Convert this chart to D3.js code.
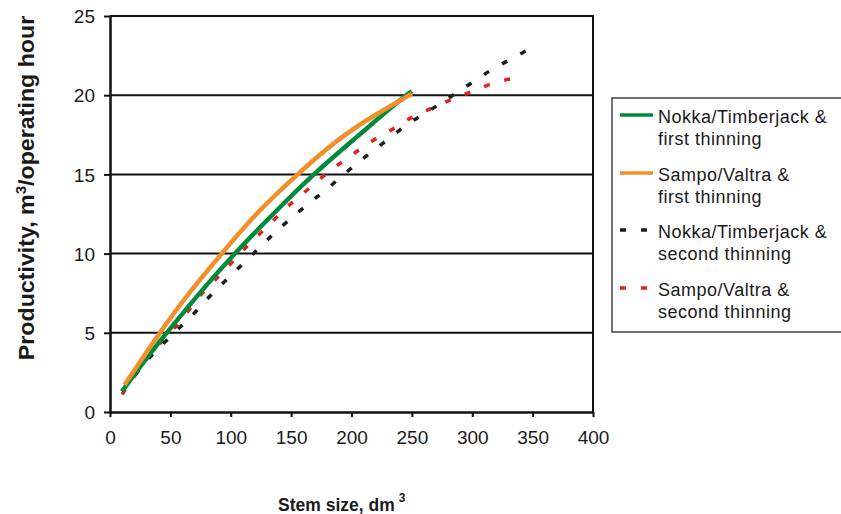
<!DOCTYPE html>
<html>
<head>
<meta charset="utf-8">
<script src="https://cdn.jsdelivr.net/npm/d3@7/dist/d3.min.js"></script>
<style>
  html, body { margin: 0; padding: 0; background: #fff; }
  svg { display: block; font-family: "Liberation Sans", Arial, sans-serif; }
</style>
</head>
<body>
<svg id="chart" width="841" height="514"></svg>
<script>
// ---- data ----
const seriesNames = [
  ["Nokka/Timberjack &", "first thinning"],
  ["Sampo/Valtra &", "first thinning"],
  ["Nokka/Timberjack &", "second thinning"],
  ["Sampo/Valtra &", "second thinning"]
];
const seriesColors = ["#008a3c", "#f0902a", "#1e1e1e", "#e2231a"];

const nokkaFirstX = [10, 28, 47, 75, 103, 135, 168, 205, 240, 250];
const nokkaFirstY = [1.3, 3.2, 5.0, 7.6, 10.0, 12.5, 15.0, 17.4, 19.7, 20.25];

const sampoFirstX = [12, 41, 66, 92.5, 122, 155, 188, 220, 248, 250];
const sampoFirstY = [1.7, 5.0, 7.6, 10.0, 12.65, 15.0, 17.2, 18.8, 20.0, 20.1];

const nokkaSecondX = [10, 30, 54, 68, 82, 98, 112, 128, 145, 162, 180, 196, 213, 230, 247, 266, 283, 300, 317, 335, 349];
const nokkaSecondY = [1.3, 3.2, 5.05, 6.1, 7.26, 8.46, 9.5, 10.7, 11.9, 13.0, 14.1, 15.15, 16.2, 17.2, 18.2, 19.1, 19.95, 20.8, 21.65, 22.4, 23.0];

const sampoSecondX = [10, 30, 60, 73, 87, 101, 114, 130, 146, 163, 180, 198, 215, 233, 250, 267, 285, 302, 319, 337];
const sampoSecondY = [1.1, 3.3, 5.9, 7.2, 8.33, 9.45, 10.5, 11.7, 12.9, 14.0, 15.1, 16.1, 17.0, 17.8, 18.6, 19.2, 19.8, 20.3, 20.8, 21.1];

const xTicks = [0, 50, 100, 150, 200, 250, 300, 350, 400];
const yTicks = [0, 5, 10, 15, 20, 25];

// ---- layout ----
const svg = d3.select("#chart");
const L = 110, R = 593, T = 16, B = 412;
const x = d3.scaleLinear().domain([0, 400]).range([L, R]);
const y = d3.scaleLinear().domain([0, 25]).range([B, T]);

// gridlines (incl. top border at 25)
svg.append("g").selectAll("line").data(yTicks.filter(d => d > 0)).join("line")
  .attr("x1", L).attr("x2", R + 1).attr("y1", d => y(d)).attr("y2", d => y(d))
  .attr("stroke", "#111").attr("stroke-width", 2);
// right border
svg.append("line").attr("x1", R).attr("x2", R).attr("y1", T - 1).attr("y2", B)
  .attr("stroke", "#111").attr("stroke-width", 2);

// axes
const xAxis = svg.append("g").attr("transform", `translate(0,${B})`)
  .call(d3.axisBottom(x).tickValues(xTicks).tickSize(5).tickSizeOuter(0).tickPadding(14));
const yAxis = svg.append("g").attr("transform", `translate(${L},0)`)
  .call(d3.axisLeft(y).tickValues(yTicks).tickSize(6).tickSizeOuter(0).tickPadding(9));
[xAxis, yAxis].forEach(g => {
  g.select(".domain").attr("stroke", "#111").attr("stroke-width", 2.5);
  g.selectAll(".tick line").attr("stroke", "#111").attr("stroke-width", 2);
  g.selectAll(".tick text").attr("fill", "#1a1a1a")
    .style("font-size", "19px").style("font-family", "'Liberation Sans', Arial, sans-serif");
});
yAxis.selectAll(".tick text").attr("dy", "0.35em");

// curves
const solidLine = d3.line().x(d => x(d[0])).y(d => y(d[1])).curve(d3.curveBasis);
const dashLine = d3.line().x(d => x(d[0])).y(d => y(d[1])).curve(d3.curveMonotoneX);
const series = [
  { xs: nokkaFirstX, ys: nokkaFirstY, dash: null, w: 4.5 },
  { xs: sampoFirstX, ys: sampoFirstY, dash: null, w: 4.5 },
  { xs: nokkaSecondX, ys: nokkaSecondY, dash: "6 15", w: 3.5 },
  { xs: sampoSecondX, ys: sampoSecondY, dash: "6 15", w: 3.5 }
];
const drawOrder = [3, 2, 0, 1];
drawOrder.forEach(i => {
  const s = series[i];
  const pts = s.xs.map((v, k) => [v, s.ys[k]]);
  svg.append("path").datum(pts)
    .attr("d", s.dash ? dashLine : solidLine)
    .attr("fill", "none")
    .attr("stroke", seriesColors[i])
    .attr("stroke-width", s.w)
    .attr("stroke-dasharray", s.dash)
    .attr("stroke-linecap", "butt");
});

// axis titles
const xt = svg.append("text").attr("x", 278).attr("y", 511)
  .attr("font-weight", "bold").attr("font-size", 17.5).attr("fill", "#1a1a1a");
xt.append("tspan").text("Stem size, dm");
xt.append("tspan").attr("font-size", 12).attr("dx", 4).attr("dy", -9).text("3");

const yt = svg.append("text")
  .attr("transform", `translate(34,188) rotate(-90) scale(1.08,1)`)
  .attr("text-anchor", "middle").attr("font-weight", "bold").attr("font-size", 21.5).attr("fill", "#1a1a1a");
yt.append("tspan").text("Productivity, m");
yt.append("tspan").attr("font-size", 14).attr("dy", -8).text("3");
yt.append("tspan").attr("dy", 8).text("/operating hour");

// legend
const lg = svg.append("g");
lg.append("rect").attr("x", 612).attr("y", 98).attr("width", 240).attr("height", 234)
  .attr("fill", "#fff").attr("stroke", "#444").attr("stroke-width", 1.5);
const itemY = [115, 173, 230, 288];
seriesNames.forEach((nm, i) => {
  const yy = itemY[i];
  lg.append("line").attr("x1", 620).attr("x2", 653).attr("y1", yy).attr("y2", yy)
    .attr("stroke", seriesColors[i]).attr("stroke-width", 3.5)
    .attr("stroke-dasharray", series[i].dash);
  const t = lg.append("text").attr("x", 658).attr("y", yy + 8)
    .attr("font-size", 18).attr("letter-spacing", 0.5).attr("fill", "#1a1a1a");
  t.append("tspan").attr("x", 658).text(nm[0]);
  t.append("tspan").attr("x", 658).attr("dy", 21.5).text(nm[1]);
});
</script>
</body>
</html>
